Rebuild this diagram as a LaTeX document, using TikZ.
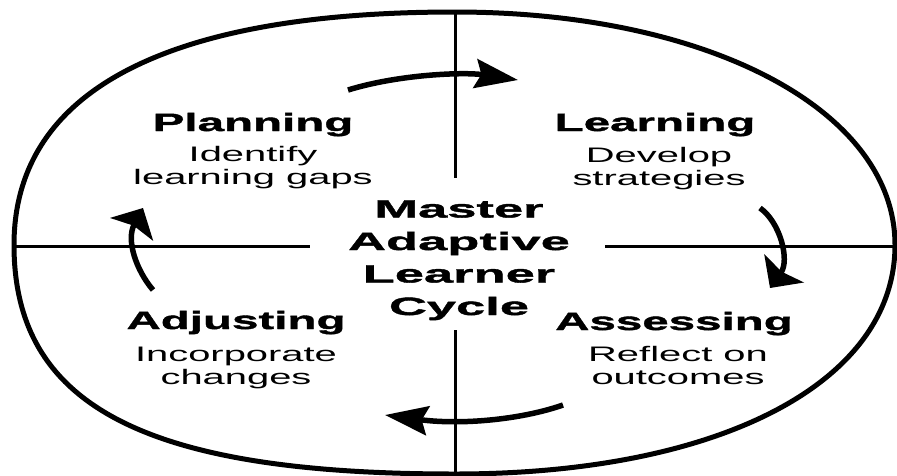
\documentclass[tikz,border=0pt]{standalone}
\usepackage{fontspec}
\setmainfont{Liberation Sans}[FakeStretch=1.9, BoldFeatures={FakeBold=1.5}]
\newfontfamily\hubfont{Liberation Sans}[FakeStretch=2.1, BoldFeatures={FakeBold=1.5}]
\usetikzlibrary{arrows.meta}

\begin{document}
\begin{tikzpicture}[
        x=1pt, y=-1pt,
        rim/.style={line width=5pt},
        axis/.style={line width=3pt},
        head/.style={font=\bfseries\fontsize{25}{30}\selectfont, anchor=base, inner sep=0pt},
        desc/.style={font=\fontsize{21}{22.5}\selectfont, align=center, anchor=base, inner sep=0pt},
        hub/.style={font=\hubfont\bfseries\fontsize{25}{32.5}\selectfont, align=center, anchor=base, inner sep=0pt},
        htip/.style={line width=5.5pt, -{Stealth[length=43pt, width=29pt, inset=6pt]}},
        vtip/.style={line width=5.5pt, -{Stealth[length=24pt, width=48pt, inset=4pt]}},
        ]
    \path[use as bounding box, fill=white] (0,0) rectangle (897,475);
    % outer ring
    \coordinate (top) at (455,12);
    \coordinate (right) at (895,245);
    \coordinate (bottom) at (455,474);
    \coordinate (left) at (14,245);
    \draw[rim] (left) .. controls (14,92) and (164,12) .. (top)
        .. controls (710,12) and (895,111) .. (right)
        .. controls (895,383) and (719,474) .. (bottom)
        .. controls (147,474) and (14,407) .. cycle;
    % cross
    \coordinate (vtop) at (455,178);
    \coordinate (vbot) at (455,330);
    \coordinate (hleft) at (310,246);
    \coordinate (hright) at (605,246);
    \draw[axis] (top) -- (vtop);
    \draw[axis] (vbot) -- (bottom);
    \draw[axis] (left |- hleft) -- (hleft);
    \draw[axis] (hright) -- (right |- hright);
    % quadrants (multi-line nodes sit on their last baseline)
    \node (plan) [head] at (253,131) {Planning};
    \node (plandesc) [desc] at (253,184) {Identify\\learning gaps};
    \node (learn) [head] at (655,131) {Learning};
    \node (learndesc) [desc] at (659,185) {Develop\\strategies};
    \node (assess) [head] at (674,330) {Assessing};
    \node (assessdesc) [desc] at (678,384) {Reflect on\\outcomes};
    \node (adjust) [head] at (236,329) {Adjusting};
    \node (adjustdesc) [desc] at (236,384) {Incorporate\\changes};
    \node (hub) [hub] at (459,315) {Master\\Adaptive\\Learner\\Cycle};
    % cycle arrows
    \coordinate (a1s) at (348,90);
    \coordinate (a1e) at (518,80);
    \coordinate (a2s) at (760,208);
    \coordinate (a2e) at (770,288);
    \coordinate (a3s) at (563,405);
    \coordinate (a3e) at (385,415);
    \coordinate (a4s) at (153,290);
    \coordinate (a4e) at (143,208);
    \draw[htip] (a1s) .. controls (400,74) and (465,72) .. (a1e);
    \draw[vtip] (a2s) .. controls (780,222) and (790,260) .. (a2e);
    \draw[htip] (a3s) .. controls (520,420) and (460,425) .. (a3e);
    \draw[vtip] (a4s) .. controls (136,270) and (126,240) .. (a4e);
\end{tikzpicture}
\end{document}
